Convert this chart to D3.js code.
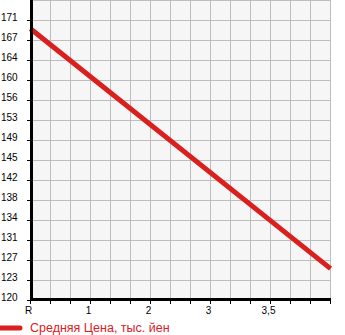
<!DOCTYPE html>
<html>
<head>
<meta charset="utf-8">
<script src="https://cdn.jsdelivr.net/npm/d3@7"></script>
<style>
  body { margin: 0; background: #fff; }
  svg { display: block; }
</style>
</head>
<body>
<div id="chart"></div>
<script>
// Tick labels
var xTickLabels = ["R", "1", "2", "3", "3,5"]
var xTickIdx = [0, 3, 6, 9, 12]
var yTickLabels = ["120", "123", "127", "131", "134", "138", "142", "145", "149", "153", "156", "160", "164", "167", "171"]

// Series: price line
var seriesName = "Средняя Цена, тыс. йен"
var lineIdx = [0, 15]
var linePrice = [169.5, 125.8]

const width = 345
const height = 335

var svg = d3.select('#chart')
  .append('svg')
  .attr('width', width)
  .attr('height', height)

var x = d3.scaleLinear().domain([0, 15]).range([30.5, 330.5])
var y = d3.scaleLinear().domain([120, 171]).range([300.5, 20.5])

var yMin = 120, yMax = 171
var yTickVals = yTickLabels.map(function (d, i) { return yMin + i * (yMax - yMin) / (yTickLabels.length - 1) })

// plot background
svg.append('rect')
  .attr('x', x(0))
  .attr('y', 0)
  .attr('width', x(15) - x(0) + 0.5)
  .attr('height', y(120))
  .attr('fill', '#f6f6f6')

// grid
var grid = svg.append('g').attr('stroke', '#bdbdbd').attr('stroke-width', 1)
grid.selectAll('line.v')
  .data(d3.range(0, 16))
  .enter().append('line')
  .attr('x1', d => x(d)).attr('x2', d => x(d))
  .attr('y1', 0).attr('y2', y(120))
var hVals = yTickVals.concat([yMax + (yMax - yMin) / (yTickLabels.length - 1)])
grid.selectAll('line.h')
  .data(hVals)
  .enter().append('line')
  .attr('x1', x(0)).attr('x2', x(15))
  .attr('y1', d => y(d)).attr('y2', d => y(d))

// y axis ticks + labels
var yAxis = svg.append('g')
yAxis.selectAll('line')
  .data(yTickVals)
  .enter().append('line')
  .attr('x1', 27).attr('x2', 31)
  .attr('y1', d => y(d)).attr('y2', d => y(d))
  .attr('stroke', '#000')
yAxis.selectAll('text')
  .data(yTickVals)
  .enter().append('text')
  .attr('x', 1)
  .attr('y', d => y(d) + 0.5)
  .attr('font-family', 'Liberation Sans, Arial, sans-serif')
  .attr('font-size', 10)
  .attr('fill', '#000')
  .text((d, i) => yTickLabels[i])

// x axis ticks + labels
var xAxis = svg.append('g')
xAxis.selectAll('line')
  .data(d3.range(0, 16))
  .enter().append('line')
  .attr('x1', d => x(d)).attr('x2', d => x(d))
  .attr('y1', 300).attr('y2', 304)
  .attr('stroke', '#000')
xAxis.selectAll('text')
  .data(xTickIdx)
  .enter().append('text')
  .attr('x', d => x(d) - 2)
  .attr('y', 314)
  .attr('text-anchor', 'middle')
  .attr('font-family', 'Liberation Sans, Arial, sans-serif')
  .attr('font-size', 10)
  .attr('fill', '#000')
  .text((d, i) => xTickLabels[i])

// data line
var line = d3.line()
  .x((d, i) => x(lineIdx[i]))
  .y(d => y(d))
svg.append('path')
  .datum(linePrice)
  .attr('d', line)
  .attr('fill', 'none')
  .attr('stroke', '#d9201f')
  .attr('stroke-width', 5)

// axis lines
svg.append('line')
  .attr('x1', 31.5).attr('x2', 31.5)
  .attr('y1', 0).attr('y2', 301)
  .attr('stroke', '#000').attr('stroke-width', 3)
svg.append('line')
  .attr('x1', 30).attr('x2', x(15) + 0.5)
  .attr('y1', 299.5).attr('y2', 299.5)
  .attr('stroke', '#000').attr('stroke-width', 3)

// legend
var legend = svg.append('g')
legend.append('line')
  .attr('x1', -3).attr('x2', 20)
  .attr('y1', 328).attr('y2', 328)
  .attr('stroke', '#d9201f')
  .attr('stroke-width', 5)
  .attr('stroke-linecap', 'round')
legend.append('text')
  .attr('x', 30)
  .attr('y', 332)
  .attr('font-family', 'Liberation Sans, Arial, sans-serif')
  .attr('font-size', 12.5)
  .attr('fill', '#d9201f')
  .text(seriesName)
</script>
</body>
</html>
